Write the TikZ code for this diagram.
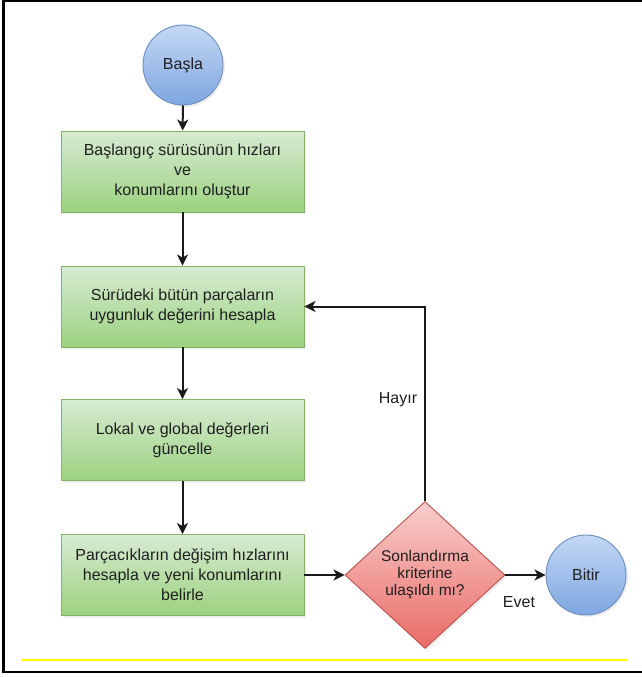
\documentclass[tikz,border=0pt]{standalone}
\usepackage{fontspec}
\setmainfont{Liberation Sans}
\usetikzlibrary{shapes.geometric,arrows.meta,shadows}
\definecolor{txt}{HTML}{1F1F1F}
\definecolor{lineclr}{HTML}{1A1A1A}
\definecolor{gstroke}{HTML}{82B366}
\definecolor{gtop}{HTML}{D7EBD3}
\definecolor{gbot}{HTML}{9CD27F}
\definecolor{bstroke}{HTML}{6C8EBF}
\definecolor{btop}{HTML}{C4D8F5}
\definecolor{bbot}{HTML}{7EA6E0}
\definecolor{rstroke}{HTML}{B85450}
\definecolor{rtop}{HTML}{F8CECC}
\definecolor{rbot}{HTML}{EA6B66}
\definecolor{hl}{HTML}{FFFF00}
\tikzset{
  lbl/.style={text=txt, font=\fontsize{16}{20}\selectfont},
  procbox/.style={rectangle, draw=gstroke, line width=0.9pt, top color=gtop, bottom color=gbot,
    minimum width=243pt, minimum height=81pt, align=center, inner sep=2pt, lbl,
    font=\fontsize{16}{20}\selectfont,
    drop shadow={shadow xshift=2pt, shadow yshift=-2pt, opacity=0.12}},
  termcirc/.style={circle, draw=bstroke, line width=0.9pt, top color=btop, bottom color=bbot,
    minimum size=80pt, inner sep=0pt, lbl,
    drop shadow={shadow xshift=2pt, shadow yshift=-2pt, opacity=0.12}},
  decbox/.style={diamond, draw=rstroke, line width=0.9pt, top color=rtop, bottom color=rbot,
    minimum width=160pt, minimum height=147pt, inner sep=0pt, align=center, text=txt,
    font=\fontsize{15.5}{17}\selectfont,
    drop shadow={shadow xshift=2pt, shadow yshift=-2pt, opacity=0.12}},
  conn/.style={draw=lineclr, line width=2pt, -{Stealth[length=11pt,width=11pt,inset=3pt]}},
}
\begin{document}
\begin{tikzpicture}[x=1pt,y=-1pt]
\useasboundingbox (0,0) rectangle (641,677);
\fill[white] (0,0) rectangle (641,677);
\draw[black, line width=2.5pt] (642,1) -- (3.5,1) -- (3.5,672) -- (642,672);
\draw[hl, line width=2.5pt] (22,660) -- (627,660);

\node[termcirc] (start) at (183,65) {Başla};
\node[procbox] (b1) at (182.5,171.5) {Başlangıç sürüsünün hızları\\ve\\konumlarını oluştur};
\node[procbox] (b2) at (182.5,306.5) {Sürüdeki bütün parçaların\\uygunluk değerini hesapla};
\node[procbox] (b3) at (182.5,440) {Lokal ve global değerleri\\güncelle};
\node[procbox] (b4) at (182.5,575) {Parçacıkların değişim hızlarını\\hesapla ve yeni konumlarını\\belirle};
\node[decbox] (dec) at (425,575) {Sonlandırma\\kriterine\\ulaşıldı mı?};
\node[termcirc] (stop) at (586,575) {Bitir};

\node[lbl] (hayir) at (398,400) {Hayır};
\node[lbl] (evet) at (519,602) {Evet};

\draw[conn] (start) -- (b1);
\draw[conn] (b1) -- (b2);
\draw[conn] (b2) -- (b3);
\draw[conn] (b3) -- (b4);
\draw[conn] (b4) -- (dec);
\draw[conn] (dec.east) -- (stop.west);
\draw[conn] (dec.north) |- (b2.east);
\end{tikzpicture}
\end{document}
